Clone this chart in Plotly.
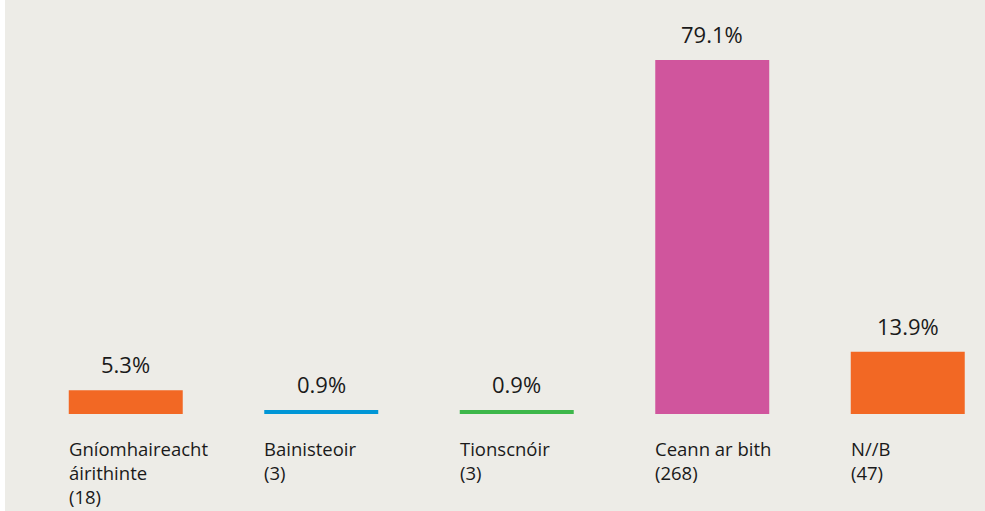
import plotly.graph_objects as go

categories = ["Gníomhaireacht áirithinte", "Bainisteoir", "Tionscnóir", "Ceann ar bith", "N//B"]
label_lines = [["Gníomhaireacht", "áirithinte", "(18)"], ["Bainisteoir", "(3)"], ["Tionscnóir", "(3)"],
               ["Ceann ar bith", "(268)"], ["N//B", "(47)"]]
values = [5.3, 0.9, 0.9, 79.1, 13.9]
value_labels = ["5.3%", "0.9%", "0.9%", "79.1%", "13.9%"]
colors = ["#F26824", "#0096D6", "#3DB74A", "#D0559D", "#F26824"]

BG = "#EDECE7"
FONT = "Open Sans"
TXT = "#1a1a1a"
BW = 0.583

x = list(range(len(categories)))
fig = go.Figure(go.Bar(x=x, y=values, marker=dict(color=colors, line=dict(width=0)),
                       width=BW, hoverinfo="skip"))

ann = []
for i, (v, lab) in enumerate(zip(values, value_labels)):
    ann.append(dict(x=i, y=v, xref="x", yref="y", text=lab, showarrow=False,
                    xanchor="center", yanchor="middle", yshift=26,
                    font=dict(family=FONT, size=22, color=TXT)))
    ann.append(dict(x=i - BW / 2, y=0, xref="x", yref="paper", text="<br>".join(label_lines[i]),
                    showarrow=False, xanchor="left", yanchor="top", align="left",
                    yshift=-20, xshift=-2,
                    font=dict(family=FONT, size=18.5, color=TXT)))

W, H = 985, 511
L, R, T, B = 28, 0, 0, 97
pw, ph = W - L - R, H - T - B
fig.update_layout(
    width=W, height=H, margin=dict(l=L, r=R, t=T, b=B, pad=0),
    paper_bgcolor=BG, plot_bgcolor=BG, showlegend=False,
    xaxis=dict(range=[-0.5, pw / 195.5 - 0.5], visible=False, fixedrange=True),
    yaxis=dict(range=[0, ph / 4.475], visible=False, fixedrange=True),
    annotations=ann,
    shapes=[dict(type="rect", xref="paper", yref="paper", x0=-L / pw, x1=(5 - L) / pw,
                 y0=-B / ph - 0.01, y1=1.01, fillcolor="white", line=dict(width=0), layer="below")],
)
fig.write_html("out.html", config={"displayModeBar": False},
               post_script="document.body.style.margin='0';document.body.style.overflow='hidden';")
